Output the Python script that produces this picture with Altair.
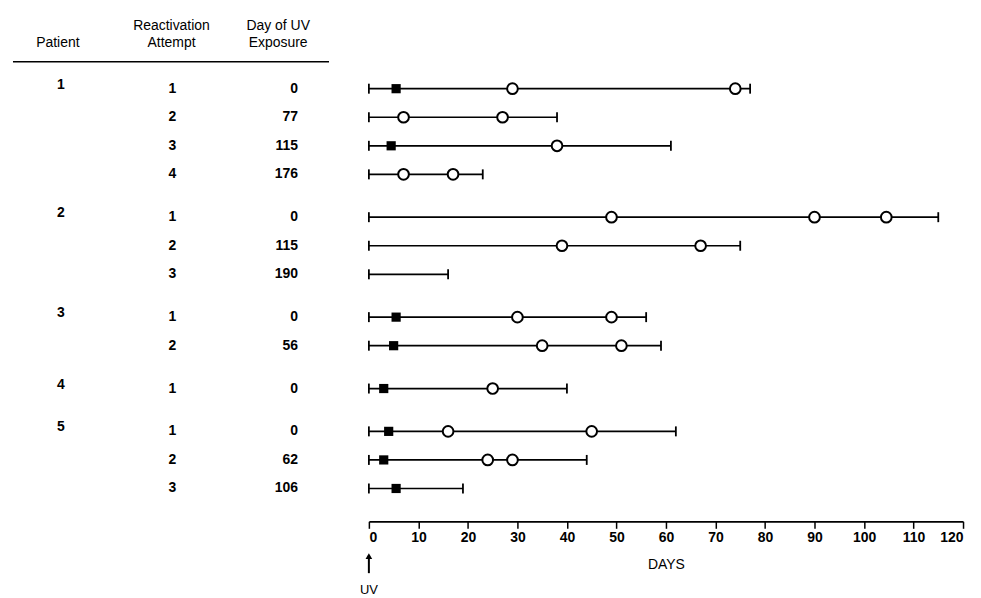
import altair as alt
import pandas as pd

# ---- data ----
patient = [1, 1, 1, 1, 2, 2, 2, 3, 3, 4, 5, 5, 5]
attempt = [1, 2, 3, 4, 1, 2, 3, 1, 2, 1, 1, 2, 3]
uv_day = [0, 77, 115, 176, 0, 115, 190, 0, 56, 0, 0, 62, 106]
episode_end = [77, 38, 61, 23, 115, 75, 16, 56, 59, 40, 62, 44, 19]
filled_square_day = [5.5, None, 4.5, None, None, None, None, 5.5, 5, 3, 4, 3, 5.5]
open_circle_days = [[29, 74], [7, 27], [38], [7, 17],
                    [49, 90, 104.5], [39, 67], [],
                    [30, 49], [35, 51],
                    [25],
                    [16, 45], [24, 29], []]
x_ticks = list(range(0, 121, 10))

# ---- tables ----
rows = pd.DataFrame({"patient": patient, "attempt": attempt, "uv_day": uv_day,
                     "end": episode_end})
rows["start"] = 0
# row slot: one per attempt, half-row gap between patients
rows["slot"] = [i + 0.5 * (p - 1) for i, p in enumerate(patient)]
rows["uv_txt"] = rows["uv_day"].astype(str)
rows["att_txt"] = rows["attempt"].astype(str)
rows["pat_txt"] = rows["patient"].astype(str)
first_rows = rows[rows["attempt"] == 1]

caps = pd.concat([rows[["slot", "start"]].rename(columns={"start": "day"}),
                  rows[["slot", "end"]].rename(columns={"end": "day"})])

squares = pd.DataFrame({"slot": rows["slot"], "day": filled_square_day}).dropna()

circ = []
for s, days in zip(rows["slot"], open_circle_days):
    for d in days:
        circ.append({"slot": s, "day": d})
circles = pd.DataFrame(circ)

FONT = "Liberation Sans"
x_axis = alt.Axis(values=x_ticks, title="DAYS", grid=False, tickSize=7,
                  labelFontSize=14, labelFontWeight="bold", labelPadding=2,
                  titleFontSize=14, titleFontWeight="normal", titlePadding=13,
                  domainColor="black", tickColor="black", labelColor="black",
                  titleColor="black", domainWidth=1.8, tickWidth=1.5)
x_scale = alt.Scale(domain=[0, 120], nice=False, zero=False)
y_scale = alt.Scale(domain=[-0.943, 15.15], nice=False, zero=False, reverse=True)

Y = alt.Y("slot:Q", scale=y_scale, axis=None)

lines = alt.Chart(rows).mark_rule(color="black", strokeWidth=1.7).encode(
    x=alt.X("start:Q", scale=x_scale, axis=x_axis), x2="end:Q", y=Y)

cap_marks = alt.Chart(caps).mark_rule(color="black", strokeWidth=1.8,
                                      yOffset=-5, y2Offset=5).encode(
    x=alt.X("day:Q", scale=x_scale, axis=x_axis), y=Y, y2="slot:Q")

sq = alt.Chart(squares).mark_square(color="black", size=85, opacity=1).encode(
    x=alt.X("day:Q", scale=x_scale, axis=x_axis), y=Y)

ci = alt.Chart(circles).mark_point(shape="circle", filled=True, fill="white",
                                   stroke="black", strokeWidth=2, size=115,
                                   opacity=1).encode(
    x=alt.X("day:Q", scale=x_scale, axis=x_axis), y=Y)

num_style = dict(font=FONT, fontSize=14, fontWeight="bold", color="black",
                 baseline="middle")
pat_text = alt.Chart(first_rows).mark_text(align="center", dy=-4, **num_style).encode(
    x=alt.value(-309), y=Y, text="pat_txt:N")
att_text = alt.Chart(rows).mark_text(align="center", **num_style).encode(
    x=alt.value(-197), y=Y, text="att_txt:N")
uv_text = alt.Chart(rows).mark_text(align="right", **num_style).encode(
    x=alt.value(-71), y=Y, text="uv_txt:N")

one = alt.Data(values=[{"a": 1}])
head_style = dict(font=FONT, fontSize=14, color="black", baseline="middle",
                  align="center")
headers = []
for txt, xv, yv in [("Patient", -312, -19), ("Reactivation", -198, -36),
                    ("Attempt", -198, -19), ("Day of UV", -91, -36),
                    ("Exposure", -91, -19)]:
    headers.append(alt.Chart(one).mark_text(**head_style).encode(
        x=alt.value(xv), y=alt.value(yv), text=alt.value(txt)))

head_rule = alt.Chart(one).mark_rule(color="black", strokeWidth=1.6).encode(
    x=alt.value(-357), x2=alt.value(-40), y=alt.value(0))

uv_shaft = alt.Chart(one).mark_rule(color="black", strokeWidth=2).encode(
    x=alt.value(0), y=alt.value(495), y2=alt.value(513))
uv_head = alt.Chart(one).mark_point(shape="triangle-up", filled=True,
                                    color="black", size=45, opacity=1).encode(
    x=alt.value(0), y=alt.value(496))
uv_label = alt.Chart(one).mark_text(font=FONT, fontSize=13, color="black",
                                    baseline="middle", align="center").encode(
    x=alt.value(0), y=alt.value(530), text=alt.value("UV"))

chart = alt.layer(lines, cap_marks, sq, ci, pat_text, att_text, uv_text,
                  *headers, head_rule, uv_shaft, uv_head, uv_label).properties(
    width=596, height=461,
    autosize=alt.AutoSizeParams(type="none"),
    padding={"left": 362, "top": 53, "right": 10, "bottom": 76},
    background="white",
).configure(font=FONT).configure_view(stroke=None)

chart.save("out.html", embed_options={"renderer": "svg", "actions": False})
